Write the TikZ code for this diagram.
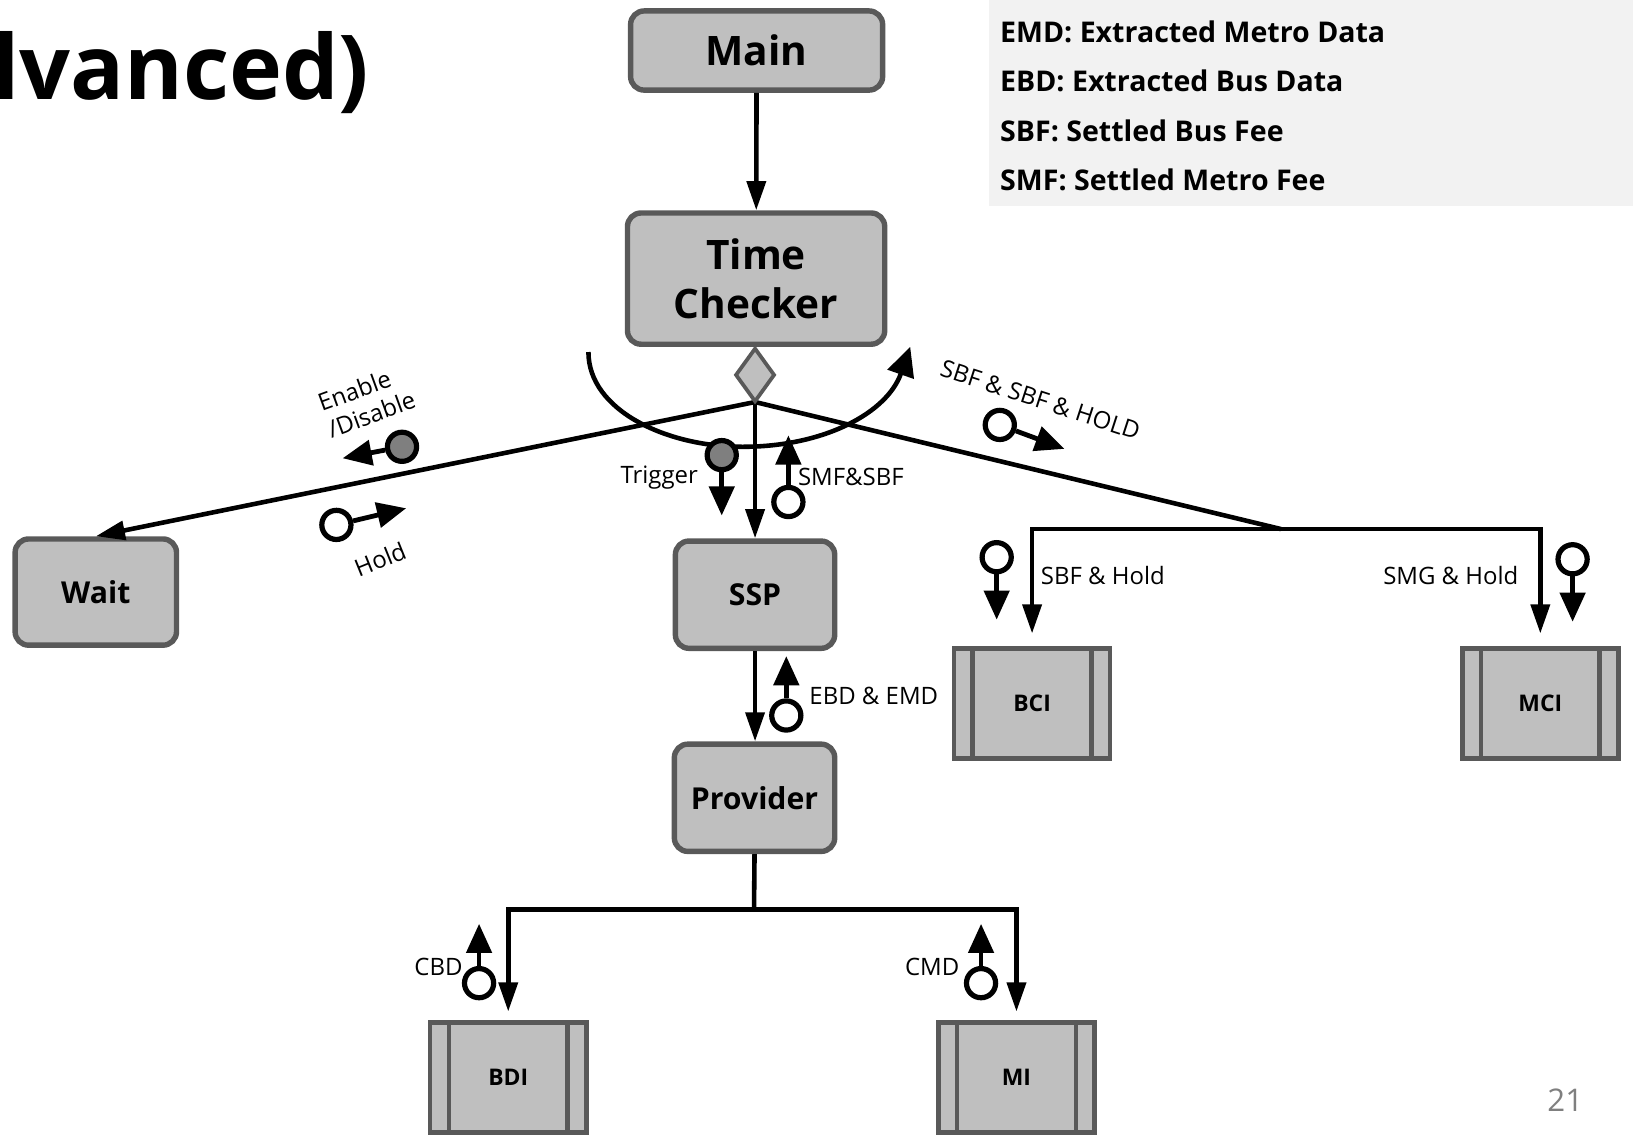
\documentclass[tikz,border=0pt]{standalone}
\usepackage{fontspec}
\setmainfont{Open Sans}
\usetikzlibrary{arrows.meta,shapes.geometric}
\definecolor{boxfill}{HTML}{BFBFBF}
\definecolor{boxline}{HTML}{595959}
\definecolor{dotfill}{HTML}{7F7F7F}
\definecolor{legendbg}{HTML}{F2F2F2}
\definecolor{pagegray}{HTML}{7F7F7F}
\begin{document}
\begin{tikzpicture}[x=0.5pt,y=-0.5pt,
 rbox/.style={draw=boxline, fill=boxfill, line width=2.6pt, rounded corners=6.5pt, inner sep=0pt, align=center, font=\bfseries\fontsize{14.5}{17}\selectfont},
 bigbox/.style={rbox, font=\bfseries\fontsize{19.5}{23.5}\selectfont},
 proc/.style={draw=boxline, fill=boxfill, line width=2.2pt, minimum width=75pt, minimum height=53pt, inner sep=0pt, font=\bfseries\fontsize{11}{13}\selectfont,
   path picture={\draw[boxline, line width=2.2pt] ([xshift=9pt]path picture bounding box.north west) -- ([xshift=9pt]path picture bounding box.south west);
                 \draw[boxline, line width=2.2pt] ([xshift=-9pt]path picture bounding box.north east) -- ([xshift=-9pt]path picture bounding box.south east);}},
 conn/.style={line width=2.2pt, -{Triangle[width=9pt,length=14pt]}},
 plain/.style={line width=2.2pt},
 sigc/.style={circle, draw=black, line width=2.5pt, minimum size=14pt, inner sep=0pt},
 sigarrow/.style={line width=2.3pt, -{Triangle[width=12pt,length=14pt]}},
 lbl/.style={font=\fontsize{11.5}{13.5}\selectfont, inner sep=0pt},
 leg/.style={anchor=base west, inner sep=0pt, font=\bfseries\fontsize{13.7}{16}\selectfont},
]
\useasboundingbox (0,0) rectangle (1568,1089);

% title fragment
\node[anchor=base west, inner sep=0pt, font=\bfseries\fontsize{43}{50}\selectfont] (title) at (-8,96) {lvanced)};

% legend
\fill[legendbg] (950,0) rectangle (1568,198);
\node[leg] (e1) at (960,41) {EMD: Extracted Metro Data};
\node[leg] (e2) at (960,88) {EBD: Extracted Bus Data};
\node[leg] (e3) at (960,136) {SBF: Settled Bus Fee};
\node[leg] (e4) at (960,183) {SMF: Settled Metro Fee};

% nodes
\node[bigbox, minimum width=121pt, minimum height=38pt] (main) at (726.5,48.5) {Main};
\node[bigbox, minimum width=123.5pt, minimum height=63pt] (tc) at (726,267.5) {Time\\Checker};
\node[rbox, minimum width=77.5pt, minimum height=51pt] (wait) at (92,568.5) {Wait};
\node[rbox, minimum width=76.5pt, minimum height=51.5pt] (ssp) at (725,571) {SSP};
\node[rbox, minimum width=77pt, minimum height=51.5pt] (prov) at (724.5,766) {Provider};
\node[proc] (bci) at (991,675.5) {BCI};
\node[proc] (mci) at (1479,675.5) {MCI};
\node[proc] (bdi) at (488,1034.5) {BDI};
\node[proc] (mi) at (976,1034.5) {MI};

% connectors
\draw[conn] (main) -- (tc);
\coordinate (jr) at (1230,508);
\coordinate (jb) at (724,873);
\coordinate (fan) at (725,386);
\draw[conn] (fan) -- (wait.north);
\draw[conn] (fan) -- (ssp.north);
\draw[plain] (fan) -- (jr);
\draw[conn, shorten >=6pt] (jr) -| (bci.north);
\draw[conn, shorten >=6pt] (jr) -| (mci.north);
\draw[conn] (ssp.south) -- (ssp.south |- prov.north);
\draw[plain] (prov.south) -- (jb);
\draw[conn, shorten >=4pt] (jb) -| (bdi.north);
\draw[conn, shorten >=4pt] (jb) -| (mi.north);

% loop arc
\coordinate (a1) at (565,338);
\coordinate (a2) at (713,429);
\coordinate (a3) at (874,333);
\draw[line width=2.2pt, -{Triangle[width=13pt,length=14pt]}] (a1) .. controls (565,394) and (640,429) .. (a2) .. controls (792,429) and (852,396) .. (a3);

% diamond
\node[diamond, draw=boxline, fill=boxfill, line width=1.8pt, minimum width=19pt, minimum height=26pt, inner sep=0pt] (dia) at (725,360) {};

% signals
\node[sigc, fill=dotfill] (s1) at (386,429) {};
\coordinate (s1t) at (329,440);
\draw[sigarrow] (s1) -- (s1t);
\node[sigc, fill=white] (s2) at (323,504) {};
\coordinate (s2t) at (390,488);
\draw[sigarrow] (s2) -- (s2t);
\node[sigc, fill=dotfill] (s3) at (693,437) {};
\coordinate (s3t) at (693,495);
\draw[sigarrow] (s3) -- (s3t);
\node[sigc, fill=white] (s4) at (757,482) {};
\coordinate (s4t) at (757,418);
\draw[sigarrow] (s4) -- (s4t);
\node[sigc, fill=white] (s5) at (960,408) {};
\coordinate (s5t) at (1022,431);
\draw[sigarrow] (s5) -- (s5t);
\node[sigc, fill=white] (s6) at (957,535) {};
\coordinate (s6t) at (957,595);
\draw[sigarrow] (s6) -- (s6t);
\node[sigc, fill=white] (s7) at (1510,537) {};
\coordinate (s7t) at (1510,597);
\draw[sigarrow] (s7) -- (s7t);
\node[sigc, fill=white] (s8) at (755,687) {};
\coordinate (s8t) at (755,630);
\draw[sigarrow] (s8) -- (s8t);
\node[sigc, fill=white] (s9) at (460,944) {};
\coordinate (s9t) at (460,887);
\draw[sigarrow] (s9) -- (s9t);
\node[sigc, fill=white] (s10) at (942,944) {};
\coordinate (s10t) at (942,887);
\draw[sigarrow] (s10) -- (s10t);

% labels
\node[lbl, rotate=20, align=left] (l1) at (352,385) {Enable\\/Disable};
\node[lbl, rotate=22] (l2) at (365,537) {Hold};
\node[lbl] (l3) at (633,459) {Trigger};
\node[lbl] (l4) at (817,458) {SMF\&SBF};
\node[lbl, rotate=-18] (l5) at (999,384) {SBF \& SBF \& HOLD};
\node[lbl] (l6) at (1059,553) {SBF \& Hold};
\node[lbl] (l7) at (1393,553) {SMG \& Hold};
\node[lbl] (l8) at (839,668) {EBD \& EMD};
\node[lbl] (l9) at (421,928) {CBD};
\node[lbl] (l10) at (895,928) {CMD};
\node[font=\fontsize{15}{18}\selectfont, text=pagegray, inner sep=0pt] (pg) at (1503,1056) {21};
\end{tikzpicture}
\end{document}
